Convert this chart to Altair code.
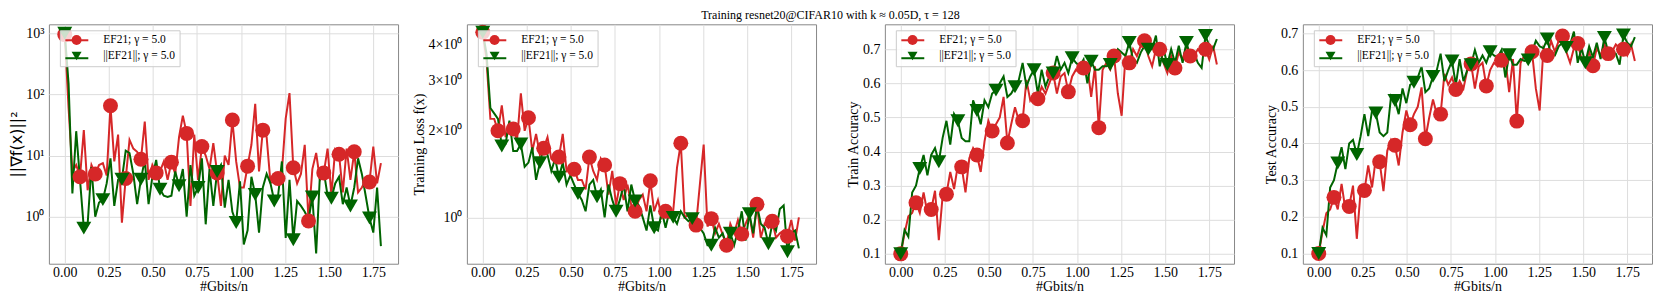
import altair as alt
import pandas as pd

M1 = "EF21; γ = 5.0"
M2 = "||EF21||; γ = 5.0"
RED = "#d62728"
GREEN = "#006400"

gbits = [0.0, 0.0216, 0.0432, 0.0648, 0.0864, 0.108, 0.1296, 0.1512, 0.1728, 0.1944,
         0.216, 0.2376, 0.2592, 0.2808, 0.3024, 0.324, 0.3456, 0.3672, 0.3888, 0.4104,
         0.432, 0.4536, 0.4752, 0.4968, 0.5184, 0.54, 0.5616, 0.5832, 0.6048, 0.6264,
         0.648, 0.6696, 0.6912, 0.7128, 0.7344, 0.756, 0.7776, 0.7992, 0.8208, 0.8424,
         0.864, 0.8856, 0.9072, 0.9288, 0.9504, 0.972, 0.9936, 1.0152, 1.0368, 1.0584,
         1.08, 1.1016, 1.1232, 1.1448, 1.1664, 1.188, 1.2096, 1.2312, 1.2528, 1.2744,
         1.296, 1.3176, 1.3392, 1.3608, 1.3824, 1.404, 1.4256, 1.4472, 1.4688, 1.4904,
         1.512, 1.5336, 1.5552, 1.5768, 1.5984, 1.62, 1.6416, 1.6632, 1.6848, 1.7064,
         1.728, 1.7496, 1.7712, 1.7928]

grad_ef21 = [950, 60, 5.5, 7, 4.5, 26, 2.7, 7, 5, 7,
             7.5, 4.7, 65, 8, 22, 0.8, 4.2, 18, 13, 11.5,
             8.7, 36, 4, 7, 5.2, 5.5, 8, 4, 7.8, 5,
             20, 45, 23, 1.5, 22, 4, 14, 10, 6, 16,
             5.2, 1.5, 10, 7, 38, 8, 3, 3, 6.7, 15,
             70, 5.5, 26, 20, 3.6, 3.7, 4.2, 5.5, 40, 105,
             6.3, 3.5, 5, 15, 0.85, 6, 11, 4, 5.2, 13,
             2.3, 12.5, 10.5, 2.5, 13, 4, 11.5, 2.5, 3, 4,
             3.7, 14, 3.5, 7.5]
grad_ef21bc = [1000, 150, 2.4, 25, 4, 0.65, 0.75, 6.5, 1.0, 1.7,
               1.9, 3.5, 9, 1.5, 4, 4.1, 12, 11, 5, 1.6,
               4.1, 8.5, 1.6, 4.5, 8.5, 2.8, 2.2, 2.1, 2.2, 5.5,
               3.2, 6, 1.0, 7, 2.2, 3, 9, 0.75, 6, 1.5,
               5.5, 7, 1.4, 4, 1.2, 0.8, 3.8, 0.35, 0.6, 4.5,
               2.3, 0.55, 3, 5, 3.5, 1.8, 2.2, 8, 0.45, 4,
               0.42, 1.8, 1.5, 1.2, 0.9, 2.1, 0.25, 5, 5.5, 2.2,
               2.0, 3.5, 4.5, 1.6, 3, 1.5, 3, 9, 5, 2.2,
               0.95, 0.55, 3.0, 0.33]

loss_ef21 = [4.4, 3.5, 2.2, 2.2, 2.0, 2.45, 1.9, 2.05, 2.03, 1.85,
             2.7, 2.0, 2.22, 1.7, 1.95, 1.65, 1.74, 1.9, 1.6, 1.55,
             1.62, 1.95, 1.45, 1.5, 1.47, 1.35, 1.35, 1.25, 1.62, 1.45,
             1.35, 1.6, 1.52, 1.2, 1.45, 1.1, 1.31, 1.15, 1.3, 1.1,
             1.05, 1.15, 1.2, 1.05, 1.34, 1.05, 1.15, 1.0, 1.05, 1.0,
             1.05, 1.49, 1.81, 1.0, 1.02, 0.98, 0.94, 1.3, 1.79, 0.93,
             0.99, 0.88, 0.95, 0.87, 0.80, 0.95, 0.88, 0.98, 0.875, 0.95,
             1.02, 0.85, 1.11, 0.85, 0.95, 0.92, 0.97, 0.85, 0.88, 0.9,
             0.86, 0.98, 0.83, 1.0]
loss_ef21bc = [4.4, 3.7, 2.4, 2.3, 2.2, 1.77, 1.8, 2.17, 1.7, 1.7,
               1.8, 1.5, 1.55, 1.75, 1.35, 1.55, 1.75, 1.65, 1.45, 1.6,
               1.38, 1.55, 1.3, 1.4, 1.3, 1.21, 1.15, 1.05, 1.3, 1.35,
               1.18, 1.25, 1.0, 1.3, 1.15, 1.05, 1.15, 1.3, 1.05, 1.3,
               1.14, 1.1, 1.0, 0.9, 1.1, 0.92, 0.9, 1.05, 0.92, 1.05,
               1.0, 0.95, 1.05, 1.0, 0.97, 0.99, 0.95, 0.92, 0.88, 0.8,
               0.8, 0.92, 0.85, 0.88, 0.8, 0.88, 0.8, 0.9, 1.05, 0.83,
               1.03, 0.88, 1.1, 0.95, 0.92, 0.81, 0.95, 0.9, 1.07, 1.1,
               0.76, 0.88, 0.9, 0.78]

train_ef21 = [0.10, 0.16, 0.21, 0.22, 0.25, 0.22, 0.28, 0.22, 0.23, 0.285,
              0.14, 0.27, 0.275, 0.34, 0.29, 0.36, 0.355, 0.28, 0.38, 0.41,
              0.39, 0.34, 0.43, 0.49, 0.46, 0.48, 0.50, 0.56, 0.425, 0.48,
              0.53, 0.49, 0.49, 0.61, 0.55, 0.57, 0.555, 0.59, 0.57, 0.60,
              0.63, 0.57, 0.62, 0.63, 0.575, 0.62, 0.64, 0.63, 0.645, 0.65,
              0.56, 0.65, 0.47, 0.64, 0.66, 0.64, 0.68, 0.57, 0.505, 0.68,
              0.66, 0.70, 0.68, 0.71, 0.725, 0.68, 0.65, 0.70, 0.70, 0.66,
              0.63, 0.68, 0.645, 0.69, 0.67, 0.71, 0.68, 0.68, 0.70, 0.69,
              0.70, 0.67, 0.71, 0.655]
train_ef21bc = [0.10, 0.17, 0.15, 0.28, 0.30, 0.35, 0.39, 0.33, 0.39, 0.41,
                0.37, 0.44, 0.49, 0.42, 0.51, 0.49, 0.44, 0.43, 0.43, 0.55,
                0.52, 0.48, 0.55, 0.53, 0.57, 0.58, 0.60, 0.62, 0.56, 0.57,
                0.59, 0.61, 0.66, 0.59, 0.62, 0.64, 0.57, 0.64, 0.59, 0.62,
                0.63, 0.68, 0.64, 0.66, 0.63, 0.675, 0.66, 0.65, 0.67, 0.60,
                0.665, 0.64, 0.64, 0.65, 0.65, 0.655, 0.67, 0.70, 0.69, 0.68,
                0.72, 0.67, 0.66, 0.69, 0.71, 0.70, 0.70, 0.74, 0.65, 0.70,
                0.655, 0.70, 0.66, 0.71, 0.66, 0.72, 0.68, 0.69, 0.66, 0.645,
                0.74, 0.71, 0.70, 0.73]

test_ef21 = [0.10, 0.16, 0.21, 0.22, 0.253, 0.22, 0.29, 0.22, 0.228, 0.285,
             0.14, 0.27, 0.272, 0.34, 0.28, 0.36, 0.35, 0.27, 0.38, 0.41,
             0.395, 0.34, 0.43, 0.49, 0.451, 0.48, 0.50, 0.553, 0.413, 0.47,
             0.52, 0.48, 0.48, 0.59, 0.56, 0.58, 0.547, 0.57, 0.55, 0.60,
             0.617, 0.55, 0.61, 0.62, 0.557, 0.60, 0.62, 0.61, 0.627, 0.63,
             0.54, 0.63, 0.461, 0.62, 0.64, 0.62, 0.65, 0.55, 0.49, 0.66,
             0.64, 0.68, 0.65, 0.68, 0.693, 0.65, 0.62, 0.66, 0.673, 0.63,
             0.62, 0.65, 0.612, 0.66, 0.64, 0.67, 0.645, 0.65, 0.67, 0.66,
             0.657, 0.64, 0.67, 0.625]
test_ef21bc = [0.10, 0.17, 0.15, 0.28, 0.30, 0.347, 0.39, 0.33, 0.40, 0.41,
               0.37, 0.42, 0.48, 0.42, 0.49, 0.483, 0.43, 0.42, 0.43, 0.53,
               0.517, 0.48, 0.55, 0.51, 0.56, 0.567, 0.58, 0.61, 0.54, 0.55,
               0.583, 0.60, 0.645, 0.57, 0.60, 0.625, 0.56, 0.63, 0.57, 0.60,
               0.615, 0.655, 0.62, 0.64, 0.62, 0.65, 0.64, 0.635, 0.655, 0.58,
               0.642, 0.615, 0.615, 0.63, 0.625, 0.628, 0.65, 0.68, 0.665, 0.66,
               0.685, 0.64, 0.64, 0.665, 0.675, 0.662, 0.67, 0.705, 0.62, 0.66,
               0.62, 0.665, 0.635, 0.675, 0.63, 0.689, 0.65, 0.65, 0.645, 0.615,
               0.696, 0.675, 0.665, 0.69]

MARK_EVERY = {M1: 4, M2: 5}

SERIF = "Liberation Serif"


def make_df(a, b):
    rows = []
    for m, vals in ((M1, a), (M2, b)):
        for i, (x, v) in enumerate(zip(gbits, vals)):
            rows.append({"x": x, "v": v, "m": m, "ml": m, "mk": i % MARK_EVERY[m] == 0})
    return pd.DataFrame(rows)


LEG_X, LEG_Y = 11, 6


def legend_box():
    # markers + labels + frame (color and shape merge into this one)
    return alt.Legend(
        title=None, orient="none", legendX=LEG_X, legendY=LEG_Y,
        fillColor="rgba(255,255,255,0.8)", strokeColor="#cccccc",
        padding=4,
        labelFont=SERIF, labelFontSize=11.5, labelColor="black",
        symbolSize=100, symbolOffset=7, symbolOpacity=1, symbolStrokeWidth=0,
        labelOffset=21, rowPadding=3, zindex=1)


def legend_lines():
    # the line segments drawn through the markers (no labels of its own)
    return alt.Legend(
        title=None, orient="none", legendX=LEG_X, legendY=LEG_Y - 6.5,
        fillColor="transparent", strokeColor="transparent", padding=4,
        labelFont=SERIF, labelFontSize=11.5, labelExpr="''",
        symbolType="stroke", symbolSize=529, symbolStrokeWidth=2, symbolOffset=0.5,
        labelOffset=0, rowPadding=-10, zindex=2)


cscale = alt.Scale(domain=[M1, M2], range=[RED, GREEN])
sscale = alt.Scale(domain=[M1, M2], range=["circle", "triangle-down"])
lscale = alt.Scale(range=[RED, GREEN])

xaxis = alt.Axis(values=[0, 0.25, 0.5, 0.75, 1.0, 1.25, 1.5, 1.75], format=".2f",
                 title="#Gbits/n", labelPadding=2, titlePadding=0)


def panel(df, ytitle, yscale, yaxis):
    base = alt.Chart(df).encode(
        x=alt.X("x:Q", scale=alt.Scale(domain=[-0.09, 1.89], nice=False, zero=False), axis=xaxis),
        y=alt.Y("v:Q", scale=yscale, axis=yaxis, title=ytitle),
    )
    line = base.mark_line(strokeWidth=2, clip=True).encode(
        stroke=alt.Stroke("ml:N", scale=lscale, legend=legend_lines()))
    pts = base.transform_filter("datum.mk").mark_point(
        filled=True, size=225, opacity=1, clip=True).encode(
        color=alt.Color("m:N", scale=cscale, legend=legend_box()),
        shape=alt.Shape("m:N", scale=sscale, legend=legend_box()))
    return alt.layer(line, pts).properties(width=350, height=240)


YAX = dict(labelPadding=5, titlePadding=2)

p1 = panel(make_df(grad_ef21, grad_ef21bc), "||∇f(x)||²",
           alt.Scale(type="log", domain=[0.17, 1400], nice=False),
           alt.Axis(values=[1, 10, 100, 1000],
                    labelExpr="datum.value == 1 ? '10⁰' : datum.value == 10 ? '10¹' : datum.value == 100 ? '10²' : '10³'",
                    titleFont="DejaVu Sans", titleFontSize=16,
                    labelPadding=5, titlePadding=0))
p2 = panel(make_df(loss_ef21, loss_ef21bc), "Training Loss f(x)",
           alt.Scale(type="log", domain=[0.69, 4.69], nice=False),
           alt.Axis(values=[1, 2, 3, 4],
                    labelExpr="datum.value == 1 ? '10⁰' : datum.value + '×10⁰'",
                    gridOpacity={"condition": {"test": "datum.value === 1", "value": 1}, "value": 0},
                    **YAX))
p3 = panel(make_df(train_ef21, train_ef21bc), "Train Accuracy",
           alt.Scale(domain=[0.071, 0.773], nice=False, zero=False),
           alt.Axis(values=[0.1, 0.2, 0.3, 0.4, 0.5, 0.6, 0.7], format=".1f", **YAX))
p4 = panel(make_df(test_ef21, test_ef21bc), "Test Accuracy",
           alt.Scale(domain=[0.072, 0.725], nice=False, zero=False),
           alt.Axis(values=[0.1, 0.2, 0.3, 0.4, 0.5, 0.6, 0.7], format=".1f", **YAX))

chart = alt.hconcat(p1, p2, p3, p4, spacing=69, bounds="flush").resolve_scale(
    color="independent", shape="independent", stroke="independent").properties(
    title=alt.TitleParams("Training resnet20@CIFAR10 with k ≈ 0.05D, τ = 128",
                          anchor="middle", font=SERIF, fontSize=12, fontWeight="normal",
                          color="black", offset=1, dx=0),
    padding=0,
).configure_view(stroke="#888888", strokeWidth=1).configure_axis(
    labelFont=SERIF, labelFontSize=14, labelColor="black",
    titleFont=SERIF, titleFontSize=14, titleFontWeight="normal", titleColor="black",
    gridColor="#dddddd", gridWidth=1, domain=False, ticks=False,
)

chart.save("out.html", embed_options={"renderer": "svg", "actions": False})
